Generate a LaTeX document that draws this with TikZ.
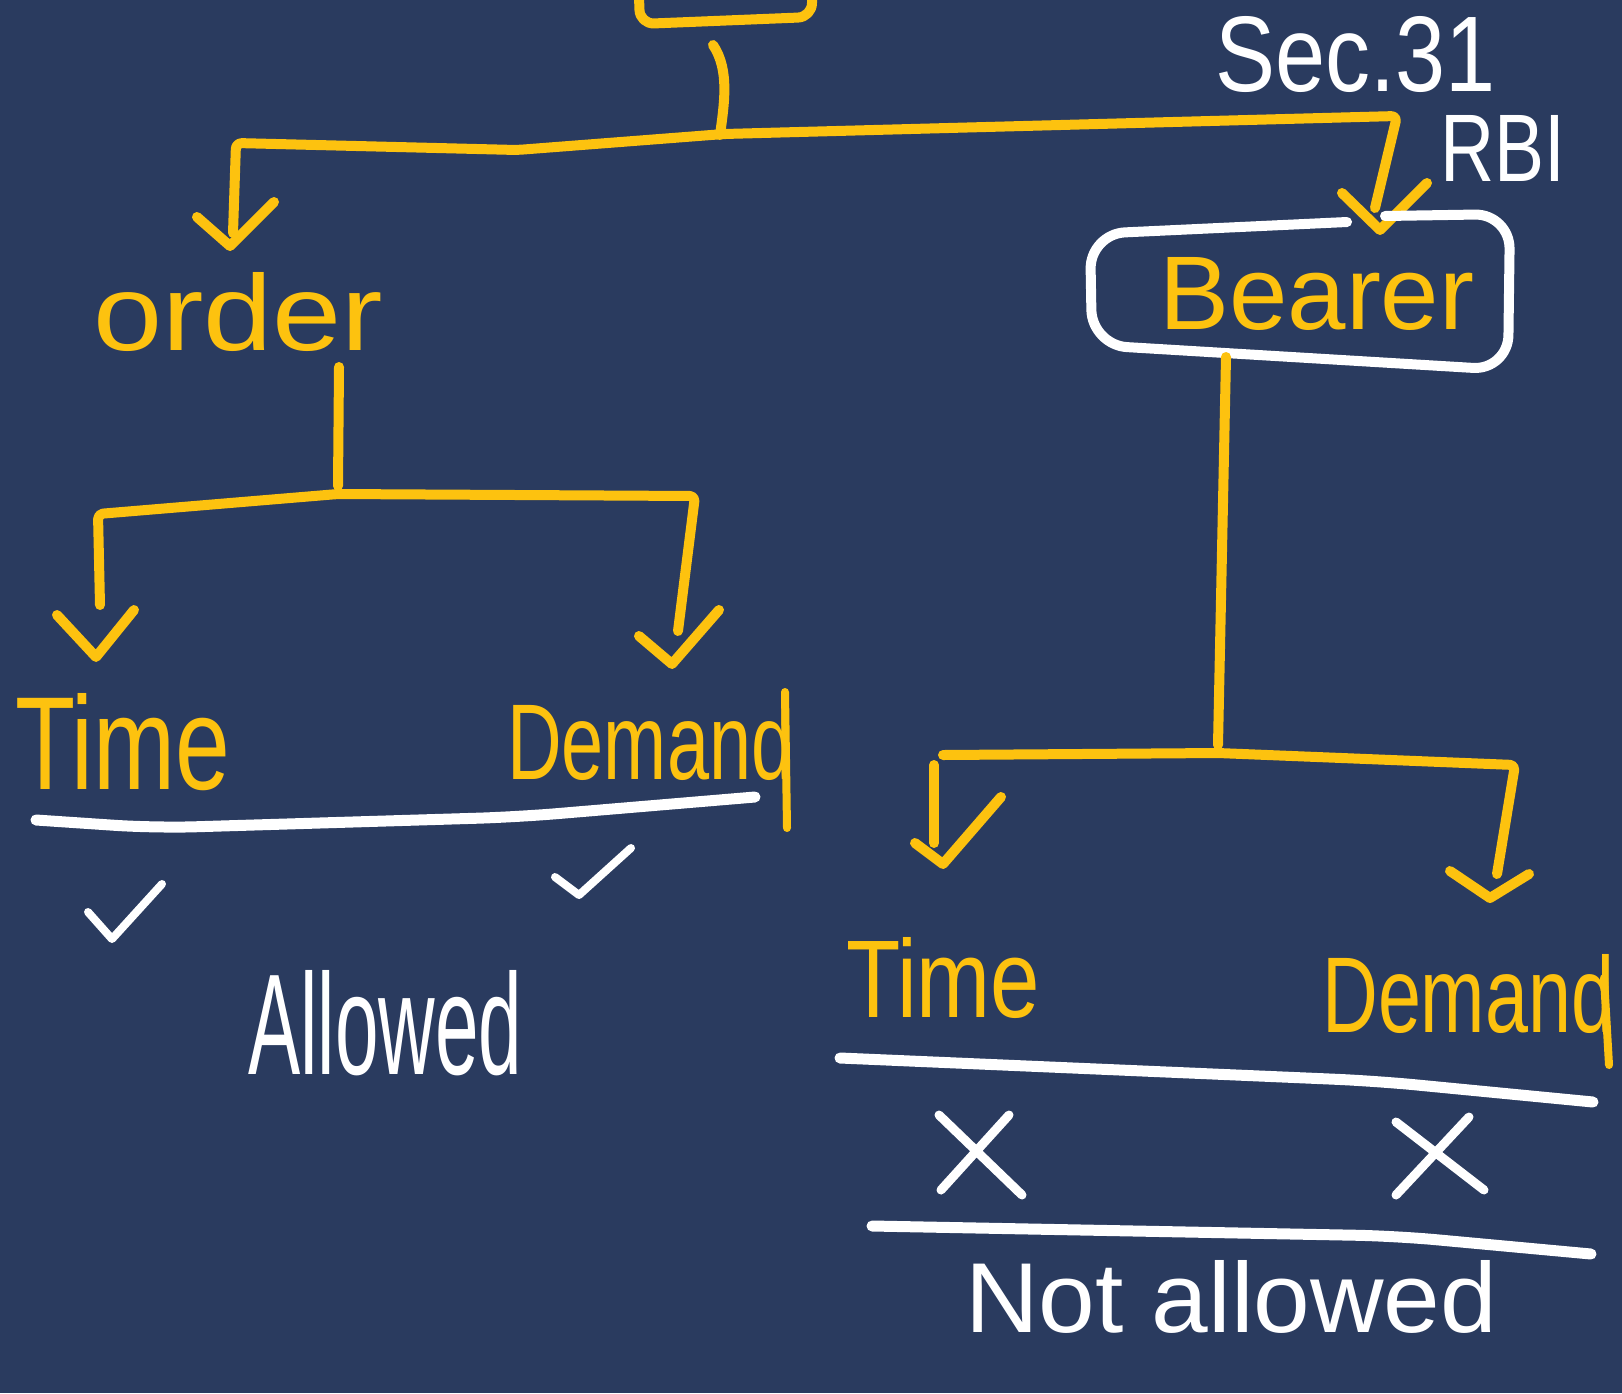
\documentclass[tikz,border=0pt]{standalone}
\usepackage{fontspec}
\setmainfont{Liberation Sans}
\usepackage{graphicx}
\definecolor{bg}{HTML}{2A3B5F}
\definecolor{hy}{HTML}{FDC20F}
\newcommand\handtext[3]{\resizebox{#1pt}{#2pt}{#3}}
\begin{document}
\begin{tikzpicture}[x=1pt,y=-1pt,
 yl/.style={draw=hy,line width=10pt,line cap=round,line join=round},
 wh/.style={draw=white,line width=11pt,line cap=round,line join=round},
 lab/.style={inner sep=0pt,anchor=south west,text=hy},
 wlab/.style={inner sep=0pt,anchor=south west,text=white}]
\fill[bg] (0,0) rectangle (1622,1393);
\useasboundingbox (0,0) rectangle (1622,1393);

% labels
\node[lab] (order) at (93,352) {\handtext{290}{78}{order}};
\node[lab] (timeL) at (15,791) {\handtext{215}{96}{Time}};
\node[lab] (demL) at (507,781) {\handtext{286}{78}{Demand}};
\node[lab] (bearer) at (1159,331) {\handtext{315}{72}{Bearer}};
\node[wlab] (sec) at (1215,93) {\handtext{280}{75}{Sec.31}};
\node[wlab] (rbi) at (1440,182) {\handtext{125}{66}{RBI}};
\node[lab] (timeR) at (846,1019) {\handtext{194}{80}{Time}};
\node[lab] (demR) at (1322,1034) {\handtext{292}{78}{Demand}};
\node[wlab] (allowed) at (248,1076) {\handtext{274}{104}{Allowed}};
\node[wlab] (notall) at (965,1334) {\handtext{532}{72}{Not allowed}};

% key points
\coordinate (stemtop) at (713,45);
\coordinate (stembot) at (720,135);
\coordinate (tl) at (236,143);
\coordinate (tr) at (1397,116);
\coordinate (tlend) at (233,233);
\coordinate (tlt) at (230,246);
\coordinate (trend) at (1375,208);
\coordinate (trt) at (1380,230);
\coordinate (ostem1) at (339,367);
\coordinate (ostem2) at (338,494);
\coordinate (ol) at (98,514);
\coordinate (or) at (695,496);
\coordinate (olend) at (100,605);
\coordinate (olt) at (96,657);
\coordinate (orend) at (678,631);
\coordinate (ort) at (672,664);
\coordinate (bstem1) at (1226,357);
\coordinate (bstem2) at (1218,753);
\coordinate (bl) at (943,755);
\coordinate (br) at (1515,765);
\coordinate (blend) at (934,843);
\coordinate (blt) at (943,864);
\coordinate (brend) at (1497,874);
\coordinate (brt) at (1490,898);

% top box (partial)
\draw[yl, rounded corners=14] (638,-30) -- (640,24) -- (812,17) -- (812,-30);
\draw[yl] (stemtop) .. controls (730,70) and (724,105) .. (stembot);

% top bracket
\draw[yl, rounded corners=6] (tlend) -- (tl) -- (517,150) -- (724,134) -- (tr) -- (trend);
\draw[yl] (197,217) -- (tlt) -- (274,202);
\draw[yl] (1342,193) -- (trt) -- (1427,183);

% Bearer box
\draw[white, line width=10pt, line cap=round, line join=round, rounded corners=35]
  (1347,222) -- (1090,234) -- (1092,345) -- (1508,370) -- (1510,214) -- (1385,216);

% order subtree
\draw[yl] (ostem1) -- (338,486);
\draw[yl, rounded corners=5] (olend) -- (ol) -- (ostem2) -- (or) -- (orend);
\draw[yl] (57,615) -- (olt) -- (134,610);
\draw[yl] (639,636) -- (ort) -- (719,610);
\draw[yl, line width=8pt] (785,692) -- (787,828);

% bearer subtree
\draw[yl] (bstem1) -- (1218,745);
\draw[yl, rounded corners=5] (bl) -- (bstem2) -- (br) -- (brend);
\draw[yl] (934,765) -- (blend);
\draw[yl] (915,843) -- (blt) -- (1001,797);
\draw[yl] (1450,871) -- (brt) -- (1529,874);
\draw[yl, line width=8pt] (1604,978) -- (1609,1065);

% white marks
\draw[wh, rounded corners=40] (36,820) -- (155,828) -- (517,817) -- (755,797);
\draw[wh, rounded corners=40] (840,1058) -- (1376,1081) -- (1593,1102);
\draw[wh, rounded corners=40] (872,1226) -- (1396,1236) -- (1591,1254);
\draw[wh, line width=8pt] (88,912) -- (112,939) -- (162,884);
\draw[wh, line width=8pt] (555,877) -- (579,895) -- (631,848);
\draw[wh, line width=9pt] (939,1115) -- (1022,1195) (1009,1115) -- (941,1190);
\draw[wh, line width=9pt] (1396,1122) -- (1484,1190) (1469,1117) -- (1396,1195);
\end{tikzpicture}
\end{document}
